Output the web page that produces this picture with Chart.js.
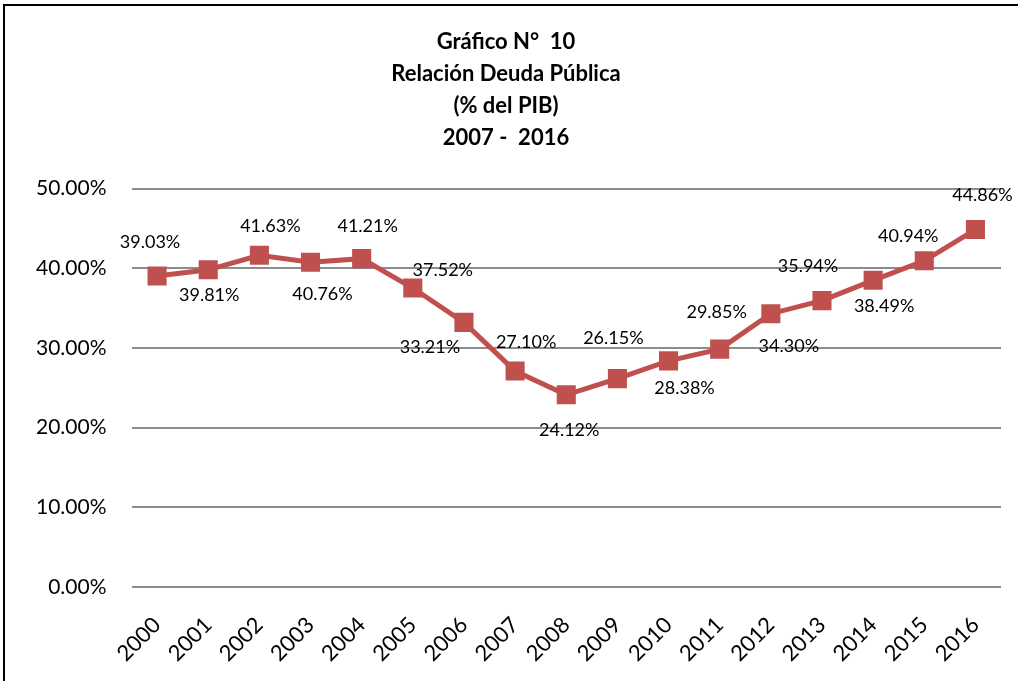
<!DOCTYPE html>
<html>
<head>
<meta charset="utf-8">
<script src="https://cdn.jsdelivr.net/npm/chart.js@4/dist/chart.umd.min.js"></script>
<style>
  body { margin: 0; background: #fff; overflow: hidden; }
  #frame {
    position: absolute; left: 3px; top: 4px;
    width: 1015px; height: 677px;
    border-left: 2px solid #000; border-top: 2px solid #000;
    box-sizing: border-box;
  }
</style>
</head>
<body>
<div id="frame"><canvas id="deudaChart"></canvas></div>
<script>
// data
const years = ['2000', '2001', '2002', '2003', '2004', '2005', '2006', '2007', '2008',
               '2009', '2010', '2011', '2012', '2013', '2014', '2015', '2016'];
const deudaPib = [39.03, 39.81, 41.63, 40.76, 41.21, 37.52, 33.21, 27.10, 24.12,
                  26.15, 28.38, 29.85, 34.30, 35.94, 38.49, 40.94, 44.86];
const titleLines = ['Gráfico N°  10', 'Relación Deuda Pública', '(% del PIB)', '2007 -  2016'];

// label placement (dx, dy from the point), like in the original sheet
const labelOffsets = [
    [-7, -34], [1, 25], [11, -29], [12, 32], [6, -32], [30, -18], [-34, 25], [11, -29], [3, 35],
    [-4, -40], [16, 27], [-3, -37], [18, 32], [-14, -34], [11, 26], [-16, -25], [7, -34]
];

const pointLabels = {
    id: 'pointLabels',
    afterDatasetsDraw(chart) {
        const ctx = chart.ctx;
        const meta = chart.getDatasetMeta(0);
        ctx.save();
        ctx.font = '18px Lato';
        ctx.fillStyle = '#000';
        ctx.textAlign = 'center';
        ctx.textBaseline = 'middle';
        meta.data.forEach(function(pt, i) {
            const off = labelOffsets[i];
            ctx.fillText(deudaPib[i].toFixed(2) + '%', pt.x + off[0], pt.y + off[1]);
        });
        ctx.restore();
    }
};

document.addEventListener('DOMContentLoaded', function() {
    const ctx = document.getElementById('deudaChart').getContext('2d');
    new Chart(ctx, {
        type: 'line',
        data: {
            labels: years,
            datasets: [{
                label: 'Deuda Pública (% del PIB)',
                data: deudaPib,
                borderColor: '#C0504D',
                backgroundColor: '#C0504D',
                borderWidth: 5,
                pointStyle: 'rect',
                pointRadius: 13.5,
                pointHoverRadius: 13.5,
                pointBorderWidth: 0,
                tension: 0,
                fill: false
            }]
        },
        options: {
            responsive: true,
            maintainAspectRatio: false,
            animation: false,
            layout: {
                padding: { left: 6, right: 17, top: 20, bottom: 0 }
            },
            scales: {
                x: {
                    offset: true,
                    grid: { display: false },
                    border: { display: false },
                    afterFit: function(scale) { scale.height = 94; },
                    ticks: {
                        color: '#000',
                        font: { family: 'Lato', size: 22 },
                        maxRotation: 45,
                        minRotation: 45,
                        padding: 17
                    }
                },
                y: {
                    min: 0,
                    max: 50,
                    grid: { color: '#8c8c8c', lineWidth: 2, drawTicks: false },
                    border: { display: false },
                    ticks: {
                        stepSize: 10,
                        color: '#000',
                        padding: 25,
                        font: { family: 'Lato', size: 21 },
                        callback: function(v) { return v.toFixed(2) + '%'; }
                    }
                }
            },
            plugins: {
                legend: { display: false },
                tooltip: { enabled: false },
                title: {
                    display: true,
                    text: titleLines,
                    color: '#000',
                    font: { family: 'Lato', size: 22, weight: 'bold', lineHeight: 1.45 },
                    padding: { top: 0, bottom: 35 }
                }
            }
        },
        plugins: [pointLabels]
    });
});
</script>
</body>
</html>
